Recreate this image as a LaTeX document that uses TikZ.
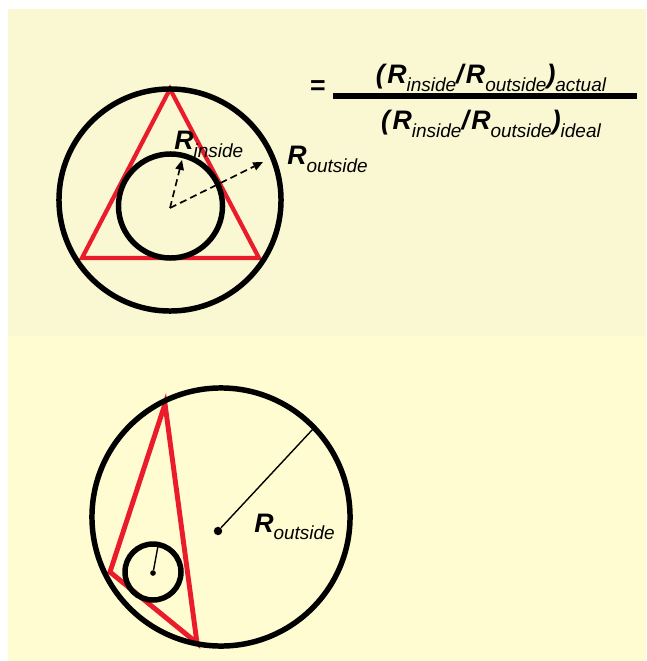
\documentclass[tikz,border=0pt]{standalone}
\usepackage{fontspec}
\setmainfont{Liberation Sans}
\usetikzlibrary{arrows.meta,positioning}
\definecolor{paperhi}{HTML}{FAF8D3}
\definecolor{paperlo}{HTML}{FFFCD2}
\definecolor{redline}{HTML}{EA1C2C}
\newcommand{\Sub}[1]{\raisebox{-5.5pt}{\fontsize{13.5}{14}\selectfont\itshape #1}}
\newcommand{\Bsym}[1]{\textbf{\textit{#1}}}
\newcommand{\Rsub}[1]{\Bsym{R}\Sub{#1}}

\begin{document}
\begin{tikzpicture}[
  x=0.025cm,y=-0.025cm,
  ring/.style={draw,circle,line width=3.9pt,inner sep=0pt},
  tri/.style={draw=redline,line width=3pt,line join=miter},
  radarrow/.style={-{Triangle[length=7pt,width=6pt]},dash pattern=on 5pt off 3pt,line width=1.2pt},
  radline/.style={line width=1pt},
  dot/.style={circle,fill,inner sep=0pt,minimum size=6pt},
  lab/.style={inner sep=0pt,anchor=base west,font=\fontsize{19}{22}\selectfont},
  frac/.style={inner sep=0pt,anchor=base,font=\fontsize{19}{22}\selectfont}
]
% background
\fill[white] (0,0) rectangle (646,661);
\useasboundingbox (0,0) rectangle (646,661);
\fill[paperhi] (8,9) rectangle (646,336);
\fill[paperlo] (8,336) rectangle (646,661);

% ideal triangle
\coordinate (apexA) at (170,89);
\coordinate (leftA) at (82,258);
\coordinate (rightA) at (259,258);
\draw[tri] (apexA) -- (leftA) -- (rightA) -- cycle;
\node[ring,minimum size=5.55cm] (outerA) at (170,200) {};
\node[ring,minimum size=2.6cm] (innerA) at (170.5,206) {};
\coordinate (centreA) at (170,208);
\coordinate (tipIn) at (182,160);
\coordinate (tipOut) at (263,162);
\draw[radarrow] (centreA) -- (tipIn);
\draw[radarrow] (centreA) -- (tipOut);
\node[lab] (rin) at (174,150) {\Rsub{inside}};
\node[lab] (rout) at (287,165) {\Rsub{outside}};

% ratio
\node[inner sep=0pt,font=\fontsize{19}{22}\selectfont\bfseries] (eq) at (318,88) {=};
\coordinate (barL) at (333,96);
\coordinate (barR) at (637,96);
\draw[line width=3.6pt] (barL) -- (barR);
\node[frac] (num) at (491,84) {\Bsym{(}\Rsub{inside}\Bsym{/}\Rsub{outside}\Bsym{)}\Sub{actual}};
\node[frac] (den) at (491,130) {\Bsym{(}\Rsub{inside}\Bsym{/}\Rsub{outside}\Bsym{)}\Sub{ideal}};

% thin triangle
\coordinate (apexB) at (165,404);
\coordinate (leftB) at (110,572);
\coordinate (lowB) at (197,643);
\draw[tri,line width=3.5pt] (apexB) -- (leftB) -- (lowB) -- cycle;
\node[ring,minimum size=6.45cm] (outerB) at (221,517) {};
\node[ring,minimum size=1.4cm] (innerB) at (153,572) {};
\node[dot] (centreB) at (218,531) {};
\node[dot,minimum size=4pt] (centreS) at (153,573) {};
\coordinate (rimB) at (313,429);
\coordinate (rimS) at (158,546);
\draw[radline] (centreB) -- (rimB);
\draw[radline] (centreS) -- (rimS);
\node[lab] (routB) at (254,532) {\Rsub{outside}};
\end{tikzpicture}
\end{document}
